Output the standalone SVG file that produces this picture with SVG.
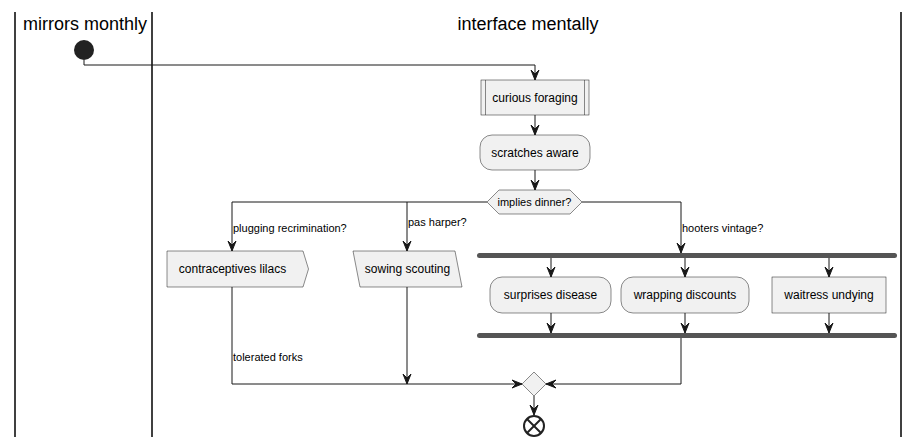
<svg xmlns="http://www.w3.org/2000/svg" width="920" height="447" viewBox="0 0 920 447">
<defs>
<style>
.lane{stroke:#000;stroke-width:1.5;fill:none}
.title{font-family:"Liberation Sans",Arial,sans-serif;font-size:18px;fill:#000;text-anchor:middle}
.node{fill:#F1F1F1;stroke:#181818;stroke-width:0.5}
.lbl{font-family:"Liberation Sans",Arial,sans-serif;font-size:12px;fill:#000;text-anchor:middle}
.small{font-family:"Liberation Sans",Arial,sans-serif;font-size:11px;fill:#000}
.edge{stroke:#181818;stroke-width:1;fill:none}
.arr{stroke:#181818;stroke-width:1;fill:none;marker-end:url(#ah)}
.bar{fill:#555555;stroke:none}
</style>
<marker id="ah" viewBox="-11 -5 12 10" refX="0" refY="0" markerWidth="12" markerHeight="10" markerUnits="userSpaceOnUse" orient="auto">
<path d="M0,0 L-10,-4 L-6,0 L-10,4 Z" fill="#181818" stroke="#181818" stroke-width="1"/>
</marker>
</defs>
<rect width="920" height="447" fill="#FFFFFF"/>
<g id="lanes">
<line class="lane" x1="15" y1="12" x2="15" y2="437"/>
<line class="lane" x1="152" y1="12" x2="152" y2="437"/>
<line class="lane" x1="901" y1="12" x2="901" y2="437"/>
<text class="title" x="85" y="30">mirrors monthly</text>
<text class="title" x="528" y="30">interface mentally</text>
</g>
<g id="connectors">
<path class="arr" d="M84,60 V65 H535 V80"/>
<path class="arr" d="M535,115 V135"/>
<path class="arr" d="M535,170 V190"/>
<path class="arr" d="M487,202 H232 V251"/>
<path class="arr" d="M407,202 V251"/>
<path class="arr" d="M582,202 H681 V253"/>
<path class="arr" d="M551,258 V277"/>
<path class="arr" d="M685,258 V277"/>
<path class="arr" d="M829,258 V277"/>
<path class="arr" d="M551,313 V333"/>
<path class="arr" d="M685,313 V333"/>
<path class="arr" d="M829,313 V333"/>
<path class="arr" d="M681,338 V384 H546"/>
<path class="arr" d="M232,287 V384 H522"/>
<path class="arr" d="M407,287 V384"/>
<path class="arr" d="M534,396 V415"/>
<text class="small" x="233" y="232">plugging recrimination?</text>
<text class="small" x="408" y="226">pas harper?</text>
<text class="small" x="682" y="232">hooters vintage?</text>
<text class="small" x="233" y="361">tolerated forks</text>
</g>
<g id="start">
<circle cx="84" cy="50" r="10" fill="#222222"/>
</g>
<g id="curious-foraging">
<rect class="node" x="481" y="80" width="108" height="35"/>
<line class="node" x1="485.5" y1="80" x2="485.5" y2="115"/>
<line class="node" x1="584.5" y1="80" x2="584.5" y2="115"/>
<text class="lbl" x="535" y="102">curious foraging</text>
</g>
<g id="scratches-aware">
<rect class="node" x="480" y="135" width="110" height="35" rx="12" ry="12"/>
<text class="lbl" x="535" y="157">scratches aware</text>
</g>
<g id="implies-dinner">
<polygon class="node" points="487,202 499,190 570,190 582,202 570,214 499,214"/>
<text class="small" x="534.5" y="206" text-anchor="middle">implies dinner?</text>
</g>
<g id="contraceptives-lilacs">
<polygon class="node" points="167,251 303,251 308.5,269 303,287 167,287"/>
<text class="lbl" x="232.5" y="273">contraceptives lilacs</text>
</g>
<g id="sowing-scouting">
<polygon class="node" points="353,251 455,251 462,287 360,287"/>
<text class="lbl" x="407.5" y="273">sowing scouting</text>
</g>
<g id="fork">
<rect class="bar" x="477" y="253" width="420" height="5" rx="2.5" ry="2.5"/>
</g>
<g id="surprises-disease">
<rect class="node" x="490" y="277" width="121" height="36" rx="12" ry="12"/>
<text class="lbl" x="550.5" y="299">surprises disease</text>
</g>
<g id="wrapping-discounts">
<rect class="node" x="621" y="277" width="128" height="36" rx="12" ry="12"/>
<text class="lbl" x="685" y="299">wrapping discounts</text>
</g>
<g id="waitress-undying">
<rect class="node" x="772" y="277" width="114" height="36"/>
<text class="lbl" x="829" y="299">waitress undying</text>
</g>
<g id="join">
<rect class="bar" x="477" y="333" width="420" height="5" rx="2.5" ry="2.5"/>
</g>
<g id="merge">
<polygon class="node" points="534,372 546,384 534,396 522,384"/>
</g>
<g id="end">
<circle cx="534" cy="426" r="10" fill="#FFFFFF" stroke="#222222" stroke-width="2"/>
<line x1="527" y1="419" x2="541" y2="433" stroke="#222222" stroke-width="2"/>
<line x1="541" y1="419" x2="527" y2="433" stroke="#222222" stroke-width="2"/>
</g>
</svg>
